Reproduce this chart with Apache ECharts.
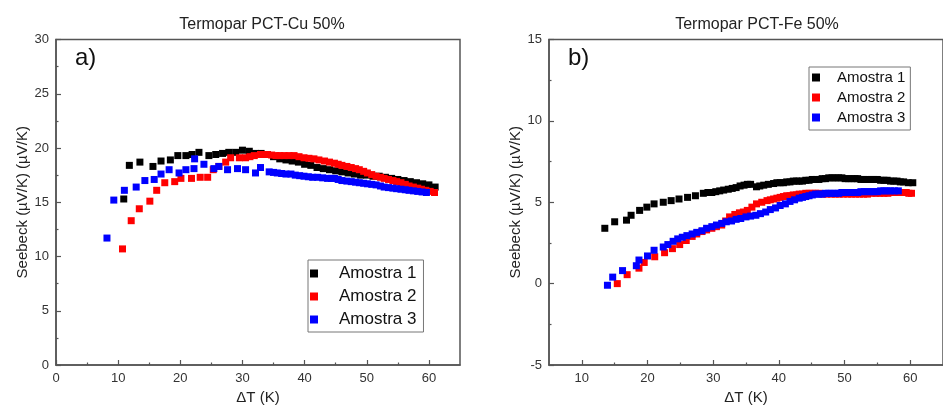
<!DOCTYPE html>
<html>
<head>
<meta charset="utf-8">
<script src="https://cdn.jsdelivr.net/npm/echarts@6/dist/echarts.min.js"></script>
<style>
html,body{margin:0;padding:0;background:#fff;}
#chart{width:943px;height:414px;}
</style>
</head>
<body>
<div id="chart"></div>
<script>
// ---- Data (ΔT in K, Seebeck in µV/K) ----
const seriesNames = ['Amostra 1', 'Amostra 2', 'Amostra 3'];
const seriesColors = ['#000000', '#ff0000', '#0000ff'];
const titles = ['Termopar PCT-Cu 50%', 'Termopar PCT-Fe 50%'];
const panelLabels = ['a)', 'b)'];

const cuMajorTicks = [0, 10, 20, 30, 40, 50, 60];
const cuMinorTicks = [5, 15, 25, 35, 45, 55];
const feMajorTicks = [10, 20, 30, 40, 50, 60];
const feMinorTicks = [15, 25, 35, 45, 55];

const cuAmostra1 = [[10.9,15.3],[11.8,18.4],[13.5,18.7],[15.6,18.3],[16.9,18.8],[18.4,18.9],[19.6,19.3],[20.9,19.3],[21.9,19.4],[23.0,19.6],[24.6,19.3],[25.7,19.4],[26.8,19.5],[27.8,19.6],[28.9,19.6],[30.0,19.8],[31.1,19.7],[32.1,19.5],[33.0,19.5],[34.0,19.4],[35.0,19.2],[36.0,19.0],[37.0,18.9],[38.0,18.8],[39.0,18.7],[40.0,18.5],[41.0,18.4],[42.0,18.2],[43.0,18.1],[44.0,18.0],[45.0,17.9],[46.0,17.8],[47.0,17.7],[48.0,17.6],[49.0,17.5],[50.0,17.5],[51.0,17.4],[52.0,17.4],[53.0,17.3],[54.0,17.2],[55.0,17.1],[56.0,17.0],[57.0,16.9],[58.0,16.8],[59.0,16.7],[60.0,16.6],[61.0,16.4]];
const cuAmostra2 = [[10.7,10.7],[12.1,13.3],[13.4,14.4],[15.1,15.1],[16.2,16.1],[17.5,16.8],[19.1,16.9],[20.1,17.2],[21.8,17.2],[23.2,17.3],[24.4,17.3],[25.3,18.0],[26.2,18.3],[27.3,18.7],[28.1,19.1],[29.5,19.1],[30.5,19.1],[31.2,19.2],[31.9,19.3],[32.9,19.4],[33.5,19.4],[34.0,19.4],[34.7,19.35],[35.4,19.3],[36.0,19.3],[36.7,19.3],[37.5,19.3],[38.3,19.3],[39.1,19.2],[39.9,19.1],[40.7,19.05],[41.5,19.0],[42.3,18.9],[43.2,18.8],[44.0,18.7],[44.8,18.6],[45.4,18.5],[46.0,18.4],[46.8,18.3],[47.5,18.2],[48.2,18.1],[48.8,18.0],[49.5,17.85],[50.1,17.7],[50.8,17.55],[51.5,17.4],[52.2,17.3],[52.8,17.2],[53.5,17.1],[54.2,17.0],[54.8,16.9],[55.5,16.8],[56.2,16.65],[56.8,16.5],[57.5,16.4],[58.2,16.3],[58.8,16.2],[59.5,16.1],[60.2,16.0],[60.9,15.9]];
const cuAmostra3 = [[8.2,11.7],[9.3,15.2],[11.0,16.1],[12.9,16.4],[14.3,17.0],[15.8,17.1],[16.9,17.6],[18.2,18.0],[19.8,17.7],[20.9,18.0],[22.2,18.1],[22.3,19.0],[23.8,18.5],[25.4,18.1],[26.2,18.3],[27.6,18.0],[29.2,18.1],[30.5,18.0],[32.1,17.7],[32.9,18.2],[34.3,17.8],[35.0,17.75],[35.6,17.7],[36.3,17.65],[37.0,17.6],[37.8,17.6],[38.5,17.5],[39.2,17.45],[39.9,17.4],[40.6,17.35],[41.3,17.3],[42.1,17.3],[42.9,17.25],[43.7,17.2],[44.3,17.2],[44.8,17.2],[45.4,17.1],[46.0,17.0],[46.8,16.95],[47.5,16.9],[48.2,16.85],[48.8,16.8],[49.5,16.75],[50.1,16.7],[50.8,16.65],[51.5,16.6],[52.2,16.5],[52.8,16.4],[53.5,16.35],[54.2,16.3],[54.8,16.25],[55.5,16.2],[56.2,16.15],[56.8,16.1],[57.5,16.05],[58.2,16.0],[58.9,15.95],[59.6,15.9]];

const feAmostra1 = [[13.5,3.4],[15.0,3.8],[16.8,3.9],[17.5,4.2],[18.8,4.5],[19.9,4.7],[21.0,4.9],[22.4,5.0],[23.6,5.1],[24.8,5.2],[26.1,5.3],[27.3,5.4],[28.5,5.55],[29.2,5.6],[29.8,5.6],[30.4,5.65],[31.0,5.7],[31.6,5.75],[32.3,5.8],[32.9,5.85],[33.5,5.9],[34.1,6.0],[34.7,6.05],[35.2,6.1],[35.7,6.1],[36.6,5.95],[37.1,6.0],[37.7,6.05],[38.4,6.1],[39.2,6.15],[39.7,6.2],[40.2,6.2],[40.7,6.2],[41.2,6.25],[41.7,6.25],[42.2,6.3],[42.7,6.3],[43.1,6.3],[43.6,6.3],[44.1,6.35],[44.6,6.35],[45.1,6.4],[45.6,6.4],[46.1,6.4],[46.6,6.45],[47.1,6.45],[47.6,6.5],[48.1,6.5],[48.6,6.5],[49.1,6.5],[49.6,6.5],[50.1,6.45],[50.6,6.45],[51.1,6.45],[51.6,6.45],[52.0,6.45],[52.5,6.4],[53.0,6.4],[53.5,6.4],[54.0,6.4],[54.5,6.4],[55.0,6.4],[55.5,6.35],[56.0,6.35],[56.5,6.35],[57.0,6.3],[57.5,6.3],[58.0,6.3],[58.5,6.25],[59.0,6.25],[59.7,6.2],[60.4,6.2]];
const feAmostra2 = [[15.4,0.0],[16.9,0.55],[18.7,0.95],[19.5,1.3],[21.1,1.65],[22.6,1.9],[23.8,2.15],[24.9,2.4],[25.9,2.65],[26.8,2.9],[27.5,3.05],[28.3,3.2],[29.0,3.3],[29.8,3.4],[30.5,3.5],[31.3,3.6],[31.9,3.85],[32.5,4.1],[33.3,4.25],[34.0,4.35],[34.6,4.4],[35.2,4.5],[35.9,4.7],[36.6,4.9],[37.4,5.0],[38.2,5.1],[38.7,5.15],[39.2,5.2],[39.7,5.25],[40.2,5.3],[40.7,5.35],[41.2,5.4],[41.7,5.4],[42.2,5.45],[42.7,5.45],[43.1,5.5],[43.6,5.5],[44.1,5.55],[44.6,5.55],[45.1,5.55],[45.6,5.55],[46.1,5.55],[46.7,5.5],[47.3,5.5],[48.0,5.5],[48.6,5.5],[49.2,5.5],[49.8,5.5],[50.5,5.5],[51.1,5.5],[51.7,5.5],[52.3,5.5],[52.9,5.5],[53.5,5.5],[54.2,5.55],[54.8,5.55],[55.4,5.55],[56.0,5.55],[56.6,5.55],[57.2,5.6],[57.8,5.6],[58.5,5.6],[59.0,5.6],[59.4,5.6],[59.8,5.55],[60.2,5.55]];
const feAmostra3 = [[13.9,-0.1],[14.7,0.4],[16.2,0.8],[18.3,1.1],[18.7,1.45],[20.0,1.7],[21.0,2.05],[22.4,2.25],[23.1,2.4],[23.9,2.6],[24.6,2.75],[25.3,2.85],[26.0,2.95],[26.8,3.05],[27.5,3.15],[28.3,3.25],[29.0,3.4],[29.8,3.5],[30.5,3.6],[31.3,3.7],[32.0,3.8],[32.8,3.85],[33.5,3.95],[34.2,4.0],[35.0,4.1],[35.7,4.15],[36.5,4.2],[37.2,4.3],[38.0,4.4],[38.7,4.55],[39.5,4.65],[40.2,4.8],[41.0,4.9],[41.7,5.05],[42.4,5.15],[43.1,5.25],[43.6,5.3],[44.1,5.35],[44.6,5.4],[45.1,5.45],[45.6,5.5],[46.1,5.5],[46.6,5.5],[47.1,5.55],[47.6,5.55],[48.1,5.55],[48.6,5.55],[49.1,5.55],[49.6,5.6],[50.1,5.6],[50.6,5.6],[51.1,5.6],[51.6,5.6],[52.0,5.6],[52.5,5.65],[53.0,5.65],[53.5,5.65],[54.0,5.65],[54.5,5.65],[55.0,5.65],[55.5,5.7],[56.0,5.7],[56.5,5.7],[57.0,5.7],[57.6,5.7],[58.2,5.7]];

// ---- Chart ----
const FONT = '"Liberation Sans", Arial, sans-serif';
const AXIS_COLOR = '#555';
const LABEL_COLOR = '#333';

const chart = echarts.init(document.getElementById('chart'), null, {renderer: 'canvas'});

function xAxisMain(gridIndex, min, max, ticks) {
  return {
    type: 'value', gridIndex, min, max, position: 'bottom',
    name: 'ΔT (K)', nameLocation: 'middle', nameGap: 24,
    nameTextStyle: {fontFamily: FONT, fontSize: 15, color: '#222'},
    axisLine: {show: true, onZero: false, lineStyle: {color: AXIS_COLOR, width: 1.5}},
    axisTick: {show: true, inside: true, length: 5, customValues: ticks, lineStyle: {color: AXIS_COLOR, width: 1.2}},
    axisLabel: {show: true, customValues: ticks, margin: 7, fontFamily: FONT, fontSize: 13, color: LABEL_COLOR},
    splitLine: {show: false}
  };
}
function xAxisMinor(gridIndex, min, max, ticks) {
  return {
    type: 'value', gridIndex, min, max, position: 'bottom',
    axisLine: {show: false, onZero: false},
    axisTick: {show: true, inside: true, length: 2.5, customValues: ticks, lineStyle: {color: AXIS_COLOR, width: 1.2}},
    axisLabel: {show: false},
    splitLine: {show: false}
  };
}
function yAxisMain(gridIndex, min, max, gap) {
  return {
    type: 'value', gridIndex, min, max, interval: 5,
    name: 'Seebeck (µV/K) (µV/K)', nameLocation: 'middle', nameGap: gap,
    nameTextStyle: {fontFamily: FONT, fontSize: 15, color: '#222'},
    axisLine: {show: true, onZero: false, lineStyle: {color: AXIS_COLOR, width: 1.5}},
    axisTick: {show: true, inside: true, length: 5, lineStyle: {color: AXIS_COLOR, width: 1.2}},
    minorTick: {show: true, splitNumber: 2, length: 2.5, lineStyle: {color: AXIS_COLOR, width: 1.2}},
    axisLabel: {margin: 7, fontFamily: FONT, fontSize: 13, color: LABEL_COLOR},
    splitLine: {show: false}, minorSplitLine: {show: false}
  };
}

const cuData = [cuAmostra1, cuAmostra2, cuAmostra3];
const feData = [feAmostra1, feAmostra2, feAmostra3];
const series = [];
cuData.forEach((d, i) => series.push({
  name: seriesNames[i], type: 'scatter', xAxisIndex: 0, yAxisIndex: 0,
  symbol: 'rect', symbolSize: 7, data: d, itemStyle: {color: seriesColors[i], opacity: 1}, animation: false
}));
feData.forEach((d, i) => series.push({
  name: seriesNames[i], type: 'scatter', xAxisIndex: 2, yAxisIndex: 1,
  symbol: 'rect', symbolSize: 7, data: d, itemStyle: {color: seriesColors[i], opacity: 1}, animation: false
}));

const squareIcon = 'path://M0,0L10,0L10,10L0,10Z';

chart.setOption({
  backgroundColor: '#ffffff',
  animation: false,
  title: [
    {text: titles[0], left: 257, top: 12, textAlign: 'center', textStyle: {fontFamily: FONT, fontSize: 16, fontWeight: 'normal', color: '#222'}},
    {text: titles[1], left: 752, top: 12, textAlign: 'center', textStyle: {fontFamily: FONT, fontSize: 16, fontWeight: 'normal', color: '#222'}}
  ],
  grid: [
    {left: 56, top: 39.5, width: 404, height: 325.5, show: true, borderColor: AXIS_COLOR, borderWidth: 1.5, containLabel: false},
    {left: 549, top: 39.5, width: 405, height: 325.5, show: true, borderColor: AXIS_COLOR, borderWidth: 1.5, containLabel: false}
  ],
  xAxis: [
    xAxisMain(0, 0, 65, cuMajorTicks),
    xAxisMinor(0, 0, 65, cuMinorTicks),
    xAxisMain(1, 5, 65, feMajorTicks),
    xAxisMinor(1, 5, 65, feMinorTicks)
  ],
  yAxis: [
    yAxisMain(0, 0, 30, 22),
    yAxisMain(1, -5, 15, 25)
  ],
  legend: [
    {
      data: seriesNames, orient: 'vertical', left: 308, top: 260,
      icon: squareIcon, itemWidth: 40, itemHeight: 8, itemGap: 6,
      padding: [5, 7, 4, 2], borderColor: '#777', borderWidth: 1,
      textStyle: {fontFamily: FONT, fontSize: 17, lineHeight: 16, color: '#111'},
      selectedMode: false
    },
    {
      data: seriesNames, orient: 'vertical', left: 809, top: 67,
      icon: squareIcon, itemWidth: 32, itemHeight: 8, itemGap: 5,
      padding: [3, 5, 5, 3], borderColor: '#777', borderWidth: 1,
      textStyle: {fontFamily: FONT, fontSize: 15, lineHeight: 14, color: '#111'},
      selectedMode: false
    }
  ],
  graphic: [
    {type: 'text', left: 75, top: 46, style: {text: panelLabels[0], fontFamily: FONT, fontSize: 24, fill: '#111'}},
    {type: 'text', left: 568, top: 46, style: {text: panelLabels[1], fontFamily: FONT, fontSize: 24, fill: '#111'}}
  ],
  series
});
</script>
</body>
</html>
